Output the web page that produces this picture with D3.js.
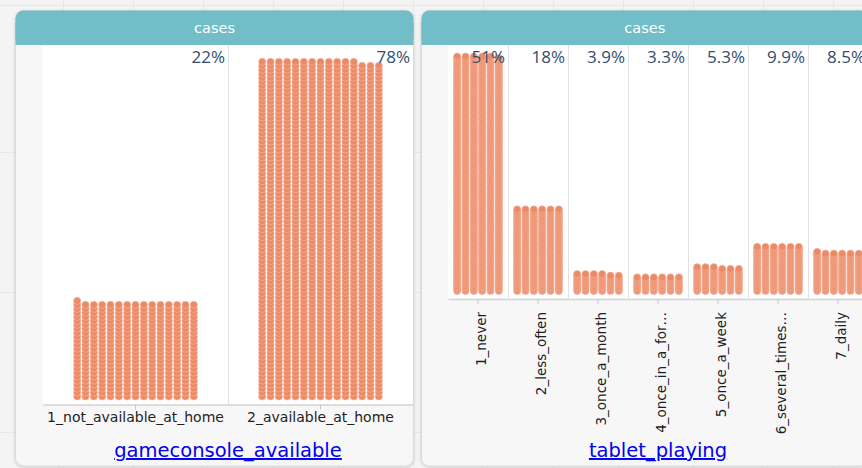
<!DOCTYPE html>
<html>
<head>
<meta charset="utf-8">
<script src="https://cdn.jsdelivr.net/npm/d3@7"></script>
<style>
  html, body { margin: 0; padding: 0; background: #f4f4f4; }
  svg { display: block; }
</style>
</head>
<body>
<svg id="chart"></svg>
<script>
// data
const headerLabel = 'cases';

const consoleAttribute = 'gameconsole_available';
const consoleCategories = ['1_not_available_at_home', '2_available_at_home'];
const consoleCounts = [361, 1272];

const tabletAttribute = 'tablet_playing';
const tabletCategories = [
  '1_never',
  '2_less_often',
  '3_once_a_month',
  '4_once_in_a_fortnight',
  '5_once_a_week',
  '6_several_times_a_week',
  '7_daily',
];
const tabletCounts = [833, 294, 64, 54, 87, 162, 139];

const width = 862;
const height = 468;
const dotColor = '#ec8a66';
const dotRadius = 3.6;
const columnPitch = 8.33;
const pctFormat = d3.format('.2r');

const svg = d3.select('#chart')
  .attr('width', width)
  .attr('height', height);

const defs = svg.append('defs');
const shadow = defs.append('filter')
  .attr('id', 'shadow')
  .attr('x', '-5%').attr('y', '-5%')
  .attr('width', '110%').attr('height', '110%');
shadow.append('feDropShadow')
  .attr('dx', 0).attr('dy', 1)
  .attr('stdDeviation', 1.5)
  .attr('flood-color', '#000')
  .attr('flood-opacity', 0.18);

// faint table grid behind the graphs
const bgGrid = svg.append('g').attr('stroke', '#e8e8e8').attr('stroke-width', 1);
d3.range(63, width, 70).forEach((gx) => {
  bgGrid.append('line').attr('x1', gx + 0.5).attr('x2', gx + 0.5).attr('y1', 0).attr('y2', height);
});
[5, 152, 292, 432].forEach((gy) => {
  bgGrid.append('line').attr('x1', 0).attr('x2', width).attr('y1', gy + 0.5).attr('y2', gy + 0.5);
});

function drawPanel(cfg, categories, counts, attrName) {
  const g = svg.append('g').attr('class', 'panel');
  const total = d3.sum(counts);
  const headerBottom = cfg.top + 34.5;

  // frame
  g.append('rect')
    .attr('x', cfg.left).attr('y', cfg.top)
    .attr('width', cfg.right - cfg.left).attr('height', cfg.bottom - cfg.top)
    .attr('rx', 8)
    .attr('fill', '#f7f7f7')
    .attr('stroke', '#dadada')
    .attr('filter', 'url(#shadow)');

  // header
  g.append('rect')
    .attr('x', cfg.left).attr('y', cfg.top)
    .attr('width', cfg.right - cfg.left).attr('height', 34.5)
    .attr('rx', 8)
    .attr('fill', '#72bec8');
  g.append('rect')
    .attr('x', cfg.left).attr('y', cfg.top + 12)
    .attr('width', cfg.right - cfg.left).attr('height', 22.5)
    .attr('fill', '#72bec8');
  g.append('text')
    .attr('x', (cfg.left + cfg.right) / 2)
    .attr('y', cfg.top + 22)
    .attr('text-anchor', 'middle')
    .attr('font-family', 'DejaVu Sans, sans-serif')
    .attr('font-size', 14.5)
    .attr('fill', '#ffffff')
    .text(headerLabel);

  // plot background
  g.append('rect')
    .attr('x', cfg.plotLeft).attr('y', headerBottom)
    .attr('width', cfg.plotRight - cfg.plotLeft).attr('height', cfg.axisY - headerBottom)
    .attr('fill', '#ffffff');

  const scaleX = d3.scaleBand()
    .domain(categories)
    .range([cfg.plotLeft, cfg.plotRight]);

  // category dividers
  g.append('g')
    .selectAll('line')
    .data(categories.slice(1))
    .join('line')
    .attr('x1', d => scaleX(d) + 0.5)
    .attr('x2', d => scaleX(d) + 0.5)
    .attr('y1', headerBottom)
    .attr('y2', cfg.axisY)
    .attr('stroke', '#e2e2e2');

  // dots
  const maxRows = Math.ceil(d3.max(counts) / cfg.columns);
  const scaleY = d3.scaleLinear()
    .domain([0, maxRows - 1])
    .range([cfg.axisY - 7.5, cfg.dotTop]);

  const dots = [];
  categories.forEach((cat, ci) => {
    for (let i = 0; i < counts[ci]; i += 1) {
      dots.push({ cat, row: Math.floor(i / cfg.columns), col: i % cfg.columns });
    }
  });

  g.append('g')
    .selectAll('circle')
    .data(dots)
    .join('circle')
    .attr('cx', d => scaleX(d.cat) + scaleX.bandwidth() / 2 + (d.col - (cfg.columns - 1) / 2) * columnPitch)
    .attr('cy', d => scaleY(d.row))
    .attr('r', dotRadius)
    .attr('fill', dotColor)
    .attr('stroke', '#f5b9a2')
    .attr('stroke-width', 0.6);

  // percent labels
  g.append('g')
    .selectAll('text')
    .data(categories)
    .join('text')
    .attr('x', d => scaleX(d) + scaleX.bandwidth() - 3)
    .attr('y', headerBottom + 18)
    .attr('text-anchor', 'end')
    .attr('font-family', 'Open Sans, sans-serif')
    .attr('font-size', 17)
    .attr('fill', '#324e6c')
    .text((d, i) => `${pctFormat(counts[i] / total * 100)}%`);

  // bottom axis
  const axis = g.append('g')
    .attr('transform', `translate(0, ${cfg.axisY + 0.5})`)
    .call(d3.axisBottom(scaleX).tickSize(5).tickSizeOuter(0));
  axis.select('.domain').attr('stroke', '#d4d4d4').attr('stroke-width', 1.5);
  axis.selectAll('.tick line').attr('stroke', '#c8c8c8');
  const labels = axis.selectAll('.tick text')
    .attr('font-family', 'DejaVu Sans, sans-serif')
    .attr('font-size', cfg.labelSize)
    .attr('fill', '#1e1e1e');

  if (cfg.rotateLabels) {
    labels
      .attr('transform', 'translate(3, 13) rotate(-90)')
      .attr('x', 0)
      .attr('y', 0)
      .attr('dy', '0.35em')
      .attr('text-anchor', 'end');
    // shorten long names the way the graph does
    labels.each(function () {
      const t = d3.select(this);
      const full = t.text();
      let n = full.length;
      while (this.getComputedTextLength() > cfg.labelMax && n > 1) {
        n -= 1;
        t.text(`${full.slice(0, n)}…`);
      }
    });
  }

  // attribute name
  g.append('text')
    .attr('x', (cfg.plotLeft + cfg.plotRight) / 2)
    .attr('y', cfg.titleY)
    .attr('text-anchor', 'middle')
    .attr('font-family', 'DejaVu Sans, sans-serif')
    .attr('font-size', 19.5)
    .attr('fill', '#0000ee')
    .style('text-decoration', 'underline')
    .text(attrName);
}

drawPanel({
  left: 15.5, right: 413.5, top: 10.5, bottom: 466,
  plotLeft: 43, plotRight: 413,
  axisY: 404, dotTop: 61.8, columns: 15,
  rotateLabels: false, labelSize: 14, titleY: 457,
}, consoleCategories, consoleCounts, consoleAttribute);

drawPanel({
  left: 421.5, right: 868, top: 10.5, bottom: 466,
  plotLeft: 448, plotRight: 868,
  axisY: 298.5, dotTop: 56.5, columns: 6,
  rotateLabels: true, labelSize: 13.5, labelMax: 122.8, titleY: 457,
}, tabletCategories, tabletCounts, tabletAttribute);
</script>
</body>
</html>
